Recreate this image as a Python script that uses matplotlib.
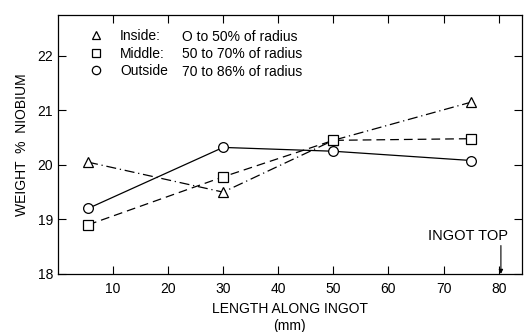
import matplotlib.pyplot as plt
from matplotlib.lines import Line2D

# data
length = [5.5, 30, 50, 75]
inside = [20.05, 19.5, 20.45, 21.15]
middle = [18.9, 19.78, 20.45, 20.48]
outside = [19.2, 20.32, 20.25, 20.08]

names = ['Inside:', 'Middle:', 'Outside']
ranges = ['O to 50% of radius', '50 to 70% of radius', '70 to 86% of radius']
markers = ['^', 's', 'o']
dashes = [(8, 3, 1, 3), (7, 4), ()]

plt.rcParams['font.family'] = ['Liberation Sans', 'DejaVu Sans']

fig = plt.figure(figsize=(5.25, 3.32), dpi=100)
ax = fig.add_axes([0.110, 0.175, 0.884, 0.780])

series = [inside, middle, outside]
for vals, m, d in zip(series, markers, dashes):
    ln, = ax.plot(length, vals, color='black', linewidth=0.9,
                  marker=m, markersize=7, markerfacecolor='white',
                  markeredgecolor='black', markeredgewidth=0.9)
    if d:
        ln.set_dashes(d)

ax.set_xlim(0, 84.2)
ax.set_ylim(18, 22.75)
ax.set_xticks([10, 20, 30, 40, 50, 60, 70, 80])
ax.set_yticks([18, 19, 20, 21, 22])
ax.tick_params(direction='in', length=6, width=0.8, labelsize=10,
               top=True, right=True, colors='black')
ax.tick_params(axis='x', pad=6)
for s in ax.spines.values():
    s.set_linewidth(0.9)

ax.set_ylabel('WEIGHT  %  NIOBIUM', fontsize=10, labelpad=6)
ax.set_xlabel('LENGTH ALONG INGOT\n(mm)', fontsize=10, linespacing=1.3)

# legend: markers + names, then range text aligned in a column
handles = [Line2D([], [], linestyle='none', marker=m, markersize=6,
                  markerfacecolor='white', markeredgecolor='black',
                  markeredgewidth=0.9) for m in markers]
ax.legend(handles, names, loc='upper left', bbox_to_anchor=(0.049, 0.977),
          frameon=False, fontsize=10, handlelength=1.0, handletextpad=1.25,
          labelspacing=0.25, borderaxespad=0.2)
for i, r in enumerate(ranges):
    ax.text(0.267, 0.915 - i * 0.0675, r, transform=ax.transAxes,
            fontsize=10, va='center', ha='left')

ax.text(74.4, 18.7, 'INGOT TOP', ha='center', va='center', fontsize=10.5)
ax.annotate('', xy=(80.4, 18.0), xytext=(80.4, 18.52),
            arrowprops=dict(arrowstyle='-|>', color='black', lw=0.8,
                            shrinkA=0, shrinkB=0, mutation_scale=6))

fig.savefig('out.png', dpi=100)
